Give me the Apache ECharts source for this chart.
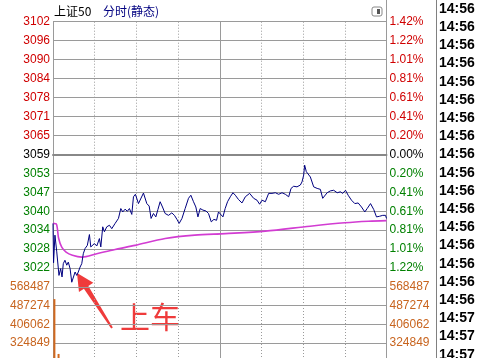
<!DOCTYPE html>
<html>
<head>
<meta charset="utf-8">
<script src="https://cdn.jsdelivr.net/npm/echarts@6/dist/echarts.min.js"></script>
<style>
  html, body { margin: 0; padding: 0; background: #fff; }
  #main { width: 478px; height: 358px; }
</style>
</head>
<body>
<div id="main"></div>
<script>
  // 上证50 分时: minute index from 9:30 (0..240), price readings
  const PRE_CLOSE = 3059
  const STEP = 6.12          // one grid row = 0.20%
  const VOL_STEP = 568487 / 7

  const minutes = [0, 0.4, 1.4, 2.7, 4.3, 5.5, 6.5, 7.4, 8.6, 9.9, 11.0, 12.3, 13.5, 14.6, 15.9, 17.1, 18.2, 19.5, 20.7, 21.8,
    23.1, 24.7, 26.2, 27.2, 28.6, 29.8, 31.5, 33.4, 34.4, 35.8, 37.0, 38.7, 40.6, 42.3, 44.7, 47.1, 48.8, 50.2, 51.9, 53.5,
    55.0, 56.7, 57.9, 59.3, 61.5, 65.1, 67.5, 69.2, 70.6, 72.3, 74.0, 75.5, 77.1, 78.8, 80.7, 83.1, 85.5, 87.4, 89.2, 90.8,
    92.8, 95.1, 97.5, 99.2, 101.1, 102.8, 104.3, 105.9, 107.9, 110.1, 111.9, 113.9, 115.8, 117.7, 119.1, 120.5, 122.3, 123.9, 125.6, 127.6,
    129.5, 131.2, 133.5, 136.0, 138.4, 141.5, 144.4, 146.8, 148.7, 150.4, 152.8, 155.2, 157.6, 160.0, 162.4, 164.8, 167.2, 169.6, 171.3, 173.2,
    175.6, 178.0, 179.2, 180.4, 181.1, 182.3, 183.6, 185.2, 187.6, 190.1, 192.4, 194.1, 195.5, 197.3, 199.6, 202.0, 204.5, 206.8, 208.5, 210.5,
    212.4, 214.8, 217.2, 219.6, 222.0, 224.4, 226.1, 228.5, 230.8, 232.8, 235.0, 237.3, 239.3, 240]
  const prices = [3036.7, 3024.0, 3032.9, 3027.5, 3019.9, 3022.1, 3019.4, 3023.7, 3024.8, 3023.2, 3024.2, 3022.1, 3017.7, 3018.3, 3021.0, 3019.9, 3021.0, 3022.6, 3023.7, 3026.9,
    3028.6, 3029.6, 3033.1, 3029.1, 3028.6, 3030.2, 3029.4, 3031.8, 3029.1, 3035.6, 3034.0, 3035.6, 3036.1, 3035.0, 3036.7, 3038.3, 3041.5, 3040.4, 3041.3, 3040.6,
    3041.5, 3039.6, 3045.3, 3046.1, 3043.1, 3046.5, 3043.1, 3042.3, 3038.3, 3039.9, 3038.8, 3041.2, 3043.7, 3042.0, 3039.9, 3039.3, 3040.1, 3039.3, 3038.0, 3036.7,
    3038.3, 3041.5, 3044.8, 3045.8, 3043.7, 3042.0, 3038.8, 3041.5, 3041.0, 3040.7, 3039.9, 3037.2, 3038.0, 3037.7, 3040.4, 3040.0, 3038.8, 3041.5, 3043.7, 3045.3,
    3046.6, 3045.8, 3044.4, 3043.3, 3045.3, 3046.4, 3044.8, 3044.2, 3042.9, 3044.2, 3043.7, 3046.4, 3046.4, 3046.6, 3046.1, 3046.6, 3046.1, 3045.3, 3048.0, 3048.7,
    3048.5, 3049.1, 3050.1, 3052.3, 3055.5, 3053.4, 3052.8, 3051.7, 3048.5, 3048.0, 3047.7, 3044.8, 3044.2, 3046.6, 3047.2, 3047.4, 3046.6, 3046.9, 3046.4, 3047.4,
    3045.8, 3044.2, 3043.1, 3043.3, 3042.0, 3040.4, 3041.5, 3043.1, 3041.2, 3038.8, 3039.0, 3039.3, 3039.3, 3038.3]

  const avgMinutes = [0, 2.5, 4, 6.3, 9.4, 14, 20.7, 31.5, 44.7, 59, 80.7, 102, 124, 152.8, 185, 210, 227, 240]
  const avgPrices = [3036.7, 3036.4, 3032.0, 3029.0, 3027.4, 3026.4, 3025.8, 3026.9, 3028.3, 3029.6, 3031.8, 3032.9, 3033.4, 3034.2, 3035.8, 3036.9, 3037.4, 3037.6]

  const volMinutes = [1, 2, 3, 4]
  const volumes = [516000, 240000, 240000, 278000]

  const priceLabels = ['3102', '3096', '3090', '3084', '3078', '3071', '3065', '3059', '3053', '3047', '3040', '3034', '3028', '3022']
  const pctLabels = ['1.42%', '1.22%', '1.01%', '0.81%', '0.61%', '0.41%', '0.20%', '0.00%', '0.20%', '0.41%', '0.61%', '0.81%', '1.01%', '1.22%']
  const volLabels = ['568487', '487274', '406062', '324849']
  const tickTimes = ['14:56', '14:56', '14:56', '14:56', '14:56', '14:56', '14:56', '14:56', '14:56', '14:56',
    '14:56', '14:56', '14:56', '14:56', '14:56', '14:56', '14:56', '14:57', '14:57', '14:57']

  const RED = '#d00000'
  const GREEN = '#008000'
  const ORANGE = '#c8641e'
  const GRID = '#9a9a9a'
  const FONT = 'Liberation Sans, Arial, sans-serif'

  const toStep = p => (p - PRE_CLOSE) / STEP
  const priceColor = v => (v > 0 ? RED : v < 0 ? GREEN : '#000')

  const chart = echarts.init(document.getElementById('main'))

  // arrow for the "上车" note
  const tip = [77, 273], tail = [112, 328]
  const arrowPts = (function () {
    const dx = tip[0] - tail[0], dy = tip[1] - tail[1]
    const len = Math.sqrt(dx * dx + dy * dy)
    const ux = dx / len, uy = dy / len, nx = -uy, ny = ux
    const hb = [tip[0] - ux * 17, tip[1] - uy * 17]
    const p = (b, w) => [b[0] + nx * w, b[1] + ny * w]
    return [tip, p(hb, 8.5), p(hb, 2.6), p(tail, 1), p(tail, -1), p(hb, -2.6), p(hb, -8.5)]
  })()

  const timeTexts = tickTimes.map((t, i) => ({
    type: 'text', left: 439, top: 10 + i * 18.2 - 8,
    style: { text: t, fill: '#000', font: 'bold 14px ' + FONT }
  }))

  const priceAxis = (pos, labels) => ({
    type: 'value', gridIndex: 0, position: pos, min: -7, max: 7, interval: 1,
    axisLine: { show: true, lineStyle: { color: GRID } },
    axisTick: { show: false },
    splitLine: { show: pos === 'left', lineStyle: { color: GRID, width: 1 } },
    axisLabel: {
      margin: 3,
      fontFamily: FONT, fontSize: 12,
      formatter: v => (Math.round(v) <= -7 ? '' : labels[7 - Math.round(v)]),
      color: v => priceColor(Math.round(v))
    }
  })

  const volAxis = pos => ({
    type: 'value', gridIndex: 1, position: pos, min: 0, max: 7, interval: 1,
    axisLine: { show: true, lineStyle: { color: GRID } },
    axisTick: { show: false },
    splitLine: { show: pos === 'left', lineStyle: { color: GRID } },
    axisLabel: {
      margin: 3, fontFamily: FONT, fontSize: 12, color: ORANGE,
      formatter: v => volLabels[7 - Math.round(v)] || ''
    }
  })

  const timeAxis = (grid, interval, type) => ({
    type: 'value', gridIndex: grid, min: 0, max: 240, interval: interval,
    axisLine: { show: grid === 0 && interval === 30, lineStyle: { color: '#888', width: 2 } },
    axisTick: { show: false },
    axisLabel: { show: false },
    splitLine: { show: true, lineStyle: { color: GRID, type: type } }
  })

  chart.setOption({
    animation: false,
    backgroundColor: '#fff',
    grid: [
      { left: 53, right: 91.5, top: 21.7, height: 265.3, outerBoundsMode: 'none', containLabel: false },
      { left: 53, right: 91.5, top: 287, height: 131, outerBoundsMode: 'none', containLabel: false }
    ],
    xAxis: [
      timeAxis(0, 30, [1, 2]),
      timeAxis(0, 120, 'solid'),
      timeAxis(1, 30, [1, 2]),
      timeAxis(1, 120, 'solid')
    ],
    yAxis: [
      priceAxis('left', priceLabels),
      priceAxis('right', pctLabels),
      volAxis('left'),
      volAxis('right')
    ],
    series: [
      {
        name: '均价', type: 'line', xAxisIndex: 0, yAxisIndex: 0,
        data: avgMinutes.map((m, i) => [m, toStep(avgPrices[i])]),
        smooth: 0.3, showSymbol: false, silent: true,
        lineStyle: { color: '#d23cd2', width: 1.6 }
      },
      {
        name: '价格', type: 'line', xAxisIndex: 0, yAxisIndex: 0,
        data: minutes.map((m, i) => [m, toStep(prices[i])]),
        showSymbol: false, silent: true,
        lineStyle: { color: '#000080', width: 1 },
        markLine: {
          silent: true, symbol: 'none', label: { show: false },
          lineStyle: { color: '#888', width: 2, type: 'solid' },
          data: [{ yAxis: 0 }]
        }
      },
      {
        name: '成交量', type: 'bar', xAxisIndex: 2, yAxisIndex: 2,
        data: volMinutes.map((m, i) => [m, volumes[i] / VOL_STEP]),
        barWidth: 2, silent: true,
        itemStyle: { color: '#d2691e' }
      }
    ],
    graphic: [
      { type: 'text', left: 54, top: 5, style: { text: '上证50', fill: '#000', font: '12px Noto Sans CJK SC' } },
      { type: 'text', left: 103, top: 5, style: { text: '分时(静态)', fill: '#000080', font: '12px Noto Sans CJK SC' } },
      { type: 'rect', shape: { x: 372, y: 7, width: 10, height: 9, r: 2 }, style: { fill: '#fff', stroke: '#888', lineWidth: 1 } },
      { type: 'rect', shape: { x: 377, y: 9, width: 3, height: 5 }, style: { fill: '#555' } },
      { type: 'line', shape: { x1: 386.5, y1: 0, x2: 386.5, y2: 22 }, style: { stroke: GRID, lineWidth: 1 } },
      { type: 'line', shape: { x1: 436.5, y1: 0, x2: 436.5, y2: 358 }, style: { stroke: '#808080', lineWidth: 1 } },
      { type: 'polygon', shape: { points: arrowPts }, style: { fill: '#ef3b3b' } },
      { type: 'text', left: 120, top: 302, style: { text: '上车', fill: '#ef3b3b', font: '30px Noto Sans CJK SC' } }
    ].concat(timeTexts)
  })
</script>
</body>
</html>
